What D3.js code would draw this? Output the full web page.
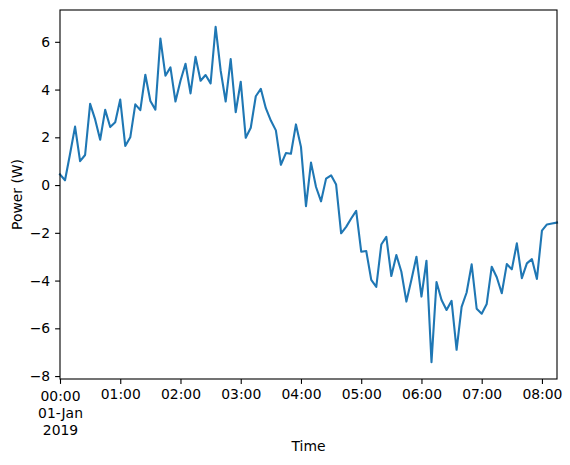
<!DOCTYPE html>
<html lang="en">

<head>
    <meta charset="UTF-8">
    <script src="https://d3js.org/d3.v7.min.js"></script>
    <style>
        body { margin: 0; background: #fff; }
        text { font-family: "DejaVu Sans", sans-serif; fill: #000; }
    </style>
    <title>power</title>
</head>

<body>
    <script>

        // data: one reading every 5 minutes starting at startTime
        var startTime = "2019-01-01T00:00:00Z"
        var stepMinutes = 5
        var power = [
            0.45, 0.2, 1.3, 2.45, 1.0, 1.26, 3.4, 2.75, 1.9, 3.15,
            2.43, 2.63, 3.58, 1.64, 2.0, 3.38, 3.14, 4.62, 3.52, 3.16,
            6.14, 4.58, 4.93, 3.5, 4.37, 5.08, 3.84, 5.37, 4.37, 4.61,
            4.26, 6.63, 4.8, 3.5, 5.28, 3.05, 4.33, 1.98, 2.4, 3.72,
            4.03, 3.22, 2.7, 2.29, 0.85, 1.34, 1.31, 2.54, 1.6, -0.88,
            0.94, -0.08, -0.68, 0.27, 0.41, 0.02, -2.02, -1.75, -1.4, -1.08,
            -2.79, -2.76, -3.97, -4.26, -2.49, -2.17, -3.81, -2.93, -3.63, -4.88,
            -3.97, -3.0, -4.67, -3.17, -7.42, -4.06, -4.81, -5.23, -4.85, -6.9,
            -5.1, -4.5, -3.32, -5.18, -5.39, -4.98, -3.42, -3.86, -4.53, -3.31,
            -3.53, -2.44, -3.9, -3.28, -3.1, -3.93, -1.91, -1.65, -1.61, -1.57
        ]
        var yTicks = [-8, -6, -4, -2, 0, 2, 4, 6]

        var t0 = new Date(startTime)
        var data = power.map(function (v, i) {
            return { t: d3.utcMinute.offset(t0, i * stepMinutes), v: v }
        })

        // chart box
        var width = 570, height = 465
        var plotLeft = 60, plotTop = 10, plotRight = 557, plotBottom = 379

        var svg = d3.select("body").append("svg")
            .attr("width", width)
            .attr("height", height)

        var x = d3.scaleUtc()
            .domain(d3.extent(data, function (d) { return d.t }))
            .range([plotLeft, plotRight])

        // 5% padding like matplotlib
        var ext = d3.extent(power)
        var pad = (ext[1] - ext[0]) * 0.05
        var y = d3.scaleLinear()
            .domain([ext[0] - pad, ext[1] + pad])
            .range([plotBottom, plotTop])

        var fmt = d3.utcFormat("%H:%M")

        // x axis
        var xAxis = svg.append("g")
            .attr("transform", "translate(0," + plotBottom + ")")
            .call(d3.axisBottom(x)
                .ticks(d3.utcHour.every(1))
                .tickSizeOuter(0)
                .tickSize(4.9)
                .tickPadding(4.9)
                .tickFormat(fmt))
        xAxis.select(".domain").remove()
        xAxis.selectAll("line").attr("stroke", "#000").attr("stroke-width", 1.1)
        xAxis.selectAll("text")
            .attr("font-size", "13.9px")
            .attr("font-family", "DejaVu Sans")
            .attr("dy", "0.72em")
            .each(function (d, i) {
                if (i === 0) {
                    var el = d3.select(this)
                    el.text(null)
                    el.append("tspan").attr("x", 0).attr("dy", "0.9em").text(fmt(d))
                    el.append("tspan").attr("x", 0).attr("dy", "1.2em").text("01-Jan")
                    el.append("tspan").attr("x", 0).attr("dy", "1.2em").text("2019")
                    el.attr("dy", null)
                }
            })

        // y axis
        var yAxis = svg.append("g")
            .attr("transform", "translate(" + plotLeft + ",0)")
            .call(d3.axisLeft(y)
                .tickValues(yTicks)
                .tickSize(4.9)
                .tickPadding(4.9)
                .tickFormat(function (d) { return d < 0 ? "\u2212" + Math.abs(d) : d }))
        yAxis.select(".domain").remove()
        yAxis.selectAll("line").attr("stroke", "#000").attr("stroke-width", 1.1)
        yAxis.selectAll("text")
            .attr("font-size", "13.9px")
            .attr("font-family", "DejaVu Sans")

        // the line
        var line = d3.line()
            .x(function (d) { return x(d.t) })
            .y(function (d) { return y(d.v) })

        svg.append("path")
            .datum(data)
            .attr("fill", "none")
            .attr("stroke", "#1f77b4")
            .attr("stroke-width", 2.1)
            .attr("stroke-linejoin", "round")
            .attr("stroke-linecap", "square")
            .attr("d", line)

        // frame
        svg.append("rect")
            .attr("x", plotLeft)
            .attr("y", plotTop)
            .attr("width", plotRight - plotLeft)
            .attr("height", plotBottom - plotTop)
            .attr("fill", "none")
            .attr("stroke", "#000")
            .attr("stroke-width", 1.1)

        // labels
        svg.append("text")
            .attr("x", (plotLeft + plotRight) / 2)
            .attr("y", 451)
            .attr("text-anchor", "middle")
            .attr("font-size", "13.9px")
            .text("Time")

        svg.append("text")
            .attr("transform", "translate(22," + (plotTop + plotBottom) / 2 + ") rotate(-90)")
            .attr("text-anchor", "middle")
            .attr("font-size", "13.9px")
            .text("Power (W)")

    </script>
</body>

</html>
